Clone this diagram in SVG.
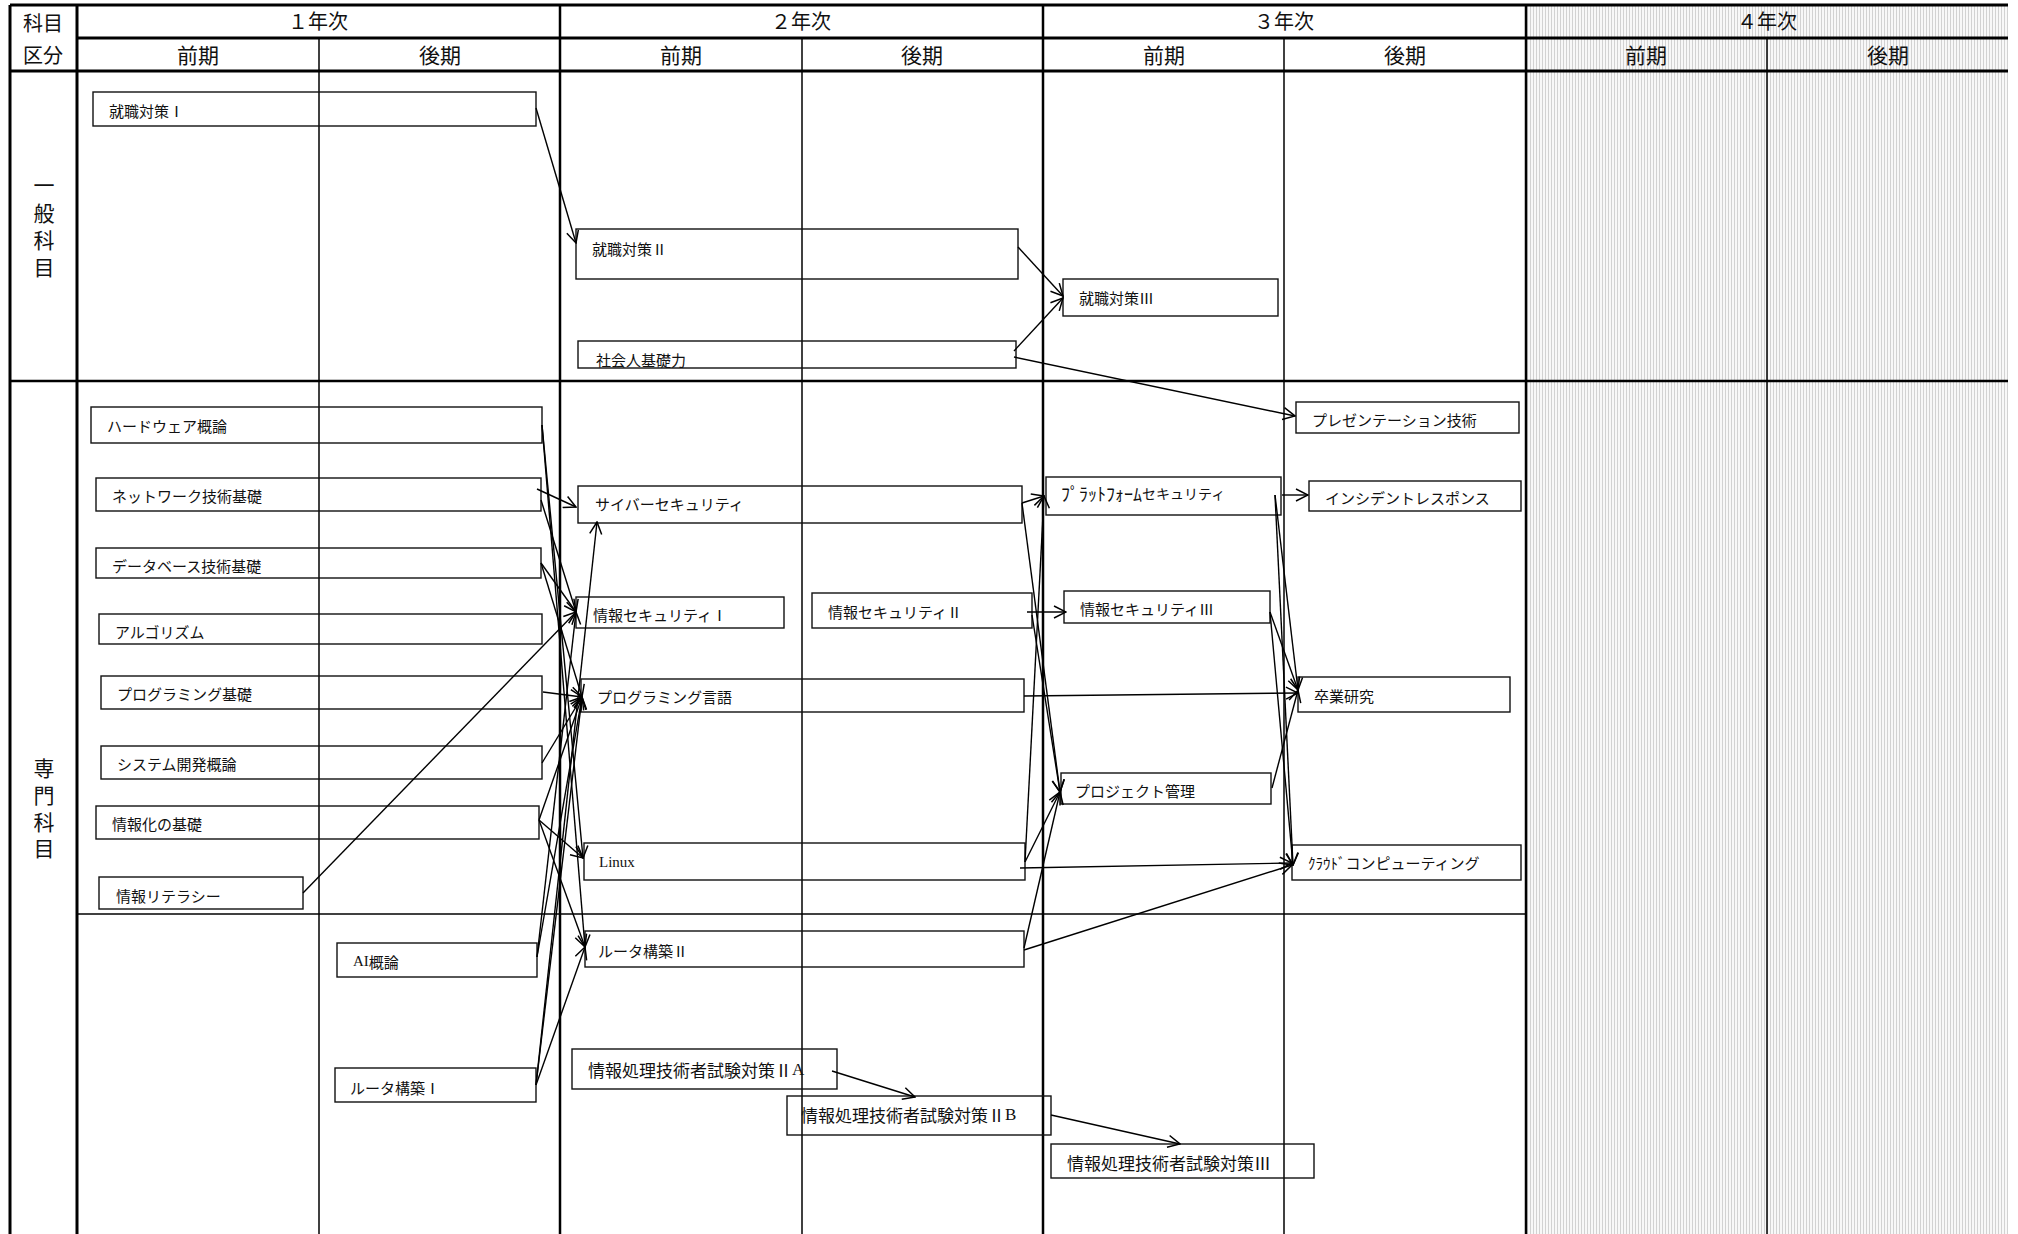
<svg xmlns="http://www.w3.org/2000/svg" width="2018" height="1234" viewBox="0 0 2018 1234">
<style>
.g{stroke:#000;fill:none}
.thick{stroke-width:3}
.mid{stroke-width:2.5}
.thin{stroke-width:1.5}
.box{fill:none;stroke:#111;stroke-width:1.4}
.t{font-family:"Noto Sans CJK JP","Liberation Serif",sans-serif;font-size:15px;fill:#111;dominant-baseline:central}
.lat{font-family:"Liberation Serif","Noto Sans CJK JP",serif}
.big{font-size:17px}
.sm{font-size:14px}
.hw{font-size:18px}
.h{font-family:"Noto Sans CJK JP",sans-serif;font-size:20px;fill:#111;text-anchor:middle;dominant-baseline:central}
.hp{font-size:21px}
.c line{stroke:#000;stroke-width:1.4;marker-end:url(#arr)}
</style>
<defs>
<pattern id="hatch" width="3" height="3" patternUnits="userSpaceOnUse">
<rect width="3" height="3" fill="#f8f8f8"/>
<rect width="1" height="3" fill="#d2d2d2"/>
</pattern>
<marker id="arr" viewBox="0 0 14 14" refX="13" refY="7" markerWidth="14" markerHeight="14" orient="auto" markerUnits="userSpaceOnUse">
<path d="M1,1 L13,7 L1,13" fill="none" stroke="#000" stroke-width="1.5"/>
</marker>
</defs>
<rect x="0" y="0" width="2018" height="1234" fill="#fff"/>
<rect x="1526" y="5" width="482" height="1229" fill="url(#hatch)"/>
<g id="grid" class="g">
<line class="thick" x1="10" y1="5" x2="2008" y2="5"/>
<line class="thick" x1="77" y1="38" x2="2008" y2="38"/>
<line class="thick" x1="10" y1="71" x2="2008" y2="71"/>
<line class="mid" x1="10" y1="381" x2="2008" y2="381"/>
<line class="thin" x1="77" y1="914" x2="1526" y2="914"/>
<line class="thick" x1="10" y1="5" x2="10" y2="1234"/>
<line class="thick" x1="77" y1="5" x2="77" y2="1234"/>
<line class="mid" x1="560" y1="5" x2="560" y2="1234"/>
<line class="mid" x1="1043" y1="5" x2="1043" y2="1234"/>
<line class="mid" x1="1526" y1="5" x2="1526" y2="1234"/>
<line class="thin" x1="319" y1="38" x2="319" y2="1234"/>
<line class="thin" x1="802" y1="38" x2="802" y2="1234"/>
<line class="thin" x1="1284" y1="38" x2="1284" y2="1234"/>
<line class="thin" x1="1767" y1="38" x2="1767" y2="1234"/>
</g>
<g id="header">
<text class="h" x="43" y="22">科目</text>
<text class="h" x="43" y="54">区分</text>
<text class="h" x="318" y="20">１年次</text>
<text class="h" x="801" y="20">２年次</text>
<text class="h" x="1284" y="20">３年次</text>
<text class="h" x="1767" y="20">４年次</text>
<text class="h hp" x="198" y="54">前期</text>
<text class="h hp" x="440" y="54">後期</text>
<text class="h hp" x="681" y="54">前期</text>
<text class="h hp" x="922" y="54">後期</text>
<text class="h hp" x="1164" y="54">前期</text>
<text class="h hp" x="1405" y="54">後期</text>
<text class="h hp" x="1646" y="54">前期</text>
<text class="h hp" x="1888" y="54">後期</text>
<text class="h hp" x="44" y="184">一</text>
<text class="h hp" x="44" y="212">般</text>
<text class="h hp" x="44" y="239">科</text>
<text class="h hp" x="44" y="266">目</text>
<text class="h hp" x="44" y="767">専</text>
<text class="h hp" x="44" y="794">門</text>
<text class="h hp" x="44" y="821">科</text>
<text class="h hp" x="44" y="847">目</text>
</g>
<g id="n1"><rect class="box" x="93" y="92" width="443" height="34"/><text class="t" x="109" y="110">就職対策Ⅰ</text></g>
<g id="n2"><rect class="box" x="576" y="229" width="442" height="50"/><text class="t" x="592" y="248">就職対策Ⅱ</text></g>
<g id="n3"><rect class="box" x="578" y="341" width="438" height="27"/><text class="t" x="596" y="359">社会人基礎力</text></g>
<g id="n4"><rect class="box" x="1063" y="279" width="215" height="37"/><text class="t" x="1079" y="297">就職対策Ⅲ</text></g>
<g id="n5"><rect class="box" x="91" y="407" width="451" height="36"/><text class="t" x="107" y="425">ハードウェア概論</text></g>
<g id="n6"><rect class="box" x="96" y="478" width="445" height="33"/><text class="t" x="112" y="495">ネットワーク技術基礎</text></g>
<g id="n7"><rect class="box" x="96" y="548" width="445" height="30"/><text class="t" x="112" y="565">データベース技術基礎</text></g>
<g id="n8"><rect class="box" x="99" y="614" width="443" height="30"/><text class="t" x="115" y="631">アルゴリズム</text></g>
<g id="n9"><rect class="box" x="101" y="676" width="441" height="33"/><text class="t" x="117" y="693">プログラミング基礎</text></g>
<g id="n10"><rect class="box" x="101" y="746" width="441" height="33"/><text class="t" x="117" y="763">システム開発概論</text></g>
<g id="n11"><rect class="box" x="96" y="806" width="443" height="33"/><text class="t" x="112" y="823">情報化の基礎</text></g>
<g id="n12"><rect class="box" x="99" y="877" width="204" height="32"/><text class="t" x="116" y="895">情報リテラシー</text></g>
<g id="n13"><rect class="box" x="337" y="943" width="200" height="34"/><text class="t" x="353" y="961"><tspan class="lat">AI</tspan>概論</text></g>
<g id="n14"><rect class="box" x="335" y="1068" width="201" height="34"/><text class="t" x="350" y="1087">ルータ構築Ⅰ</text></g>
<g id="n15"><rect class="box" x="578" y="486" width="444" height="37"/><text class="t" x="595" y="503">サイバーセキュリティ</text></g>
<g id="n16"><rect class="box" x="576" y="597" width="208" height="31"/><text class="t" x="593" y="614">情報セキュリティⅠ</text></g>
<g id="n17"><rect class="box" x="812" y="593" width="220" height="35"/><text class="t" x="828" y="611">情報セキュリティⅡ</text></g>
<g id="n18"><rect class="box" x="581" y="679" width="443" height="33"/><text class="t" x="597" y="696">プログラミング言語</text></g>
<g id="n19"><rect class="box" x="584" y="843" width="441" height="37"/><text class="t lat" x="599" y="862">Linux</text></g>
<g id="n20"><rect class="box" x="585" y="931" width="439" height="36"/><text class="t" x="598" y="950">ルータ構築Ⅱ</text></g>
<g id="n21"><rect class="box" x="572" y="1049" width="265" height="40"/><text class="t big" x="588" y="1069">情報処理技術者試験対策Ⅱ<tspan class="lat">A</tspan></text></g>
<g id="n22"><rect class="box" x="787" y="1096" width="264" height="39"/><text class="t big" x="801" y="1114">情報処理技術者試験対策Ⅱ<tspan class="lat">B</tspan></text></g>
<g id="n23"><rect class="box" x="1051" y="1144" width="263" height="34"/><text class="t big" x="1067" y="1162">情報処理技術者試験対策Ⅲ</text></g>
<g id="n24"><rect class="box" x="1296" y="402" width="223" height="31"/><text class="t" x="1312" y="419">プレゼンテーション技術</text></g>
<g id="n25"><rect class="box" x="1046" y="477" width="235" height="38"/><text class="t sm" x="1061" y="493"><tspan class="hw">ﾌﾟﾗｯﾄﾌｫｰﾑ</tspan>セキュリティ</text></g>
<g id="n26"><rect class="box" x="1309" y="481" width="212" height="30"/><text class="t" x="1325" y="497">インシデントレスポンス</text></g>
<g id="n27"><rect class="box" x="1064" y="591" width="206" height="32"/><text class="t" x="1080" y="608">情報セキュリティⅢ</text></g>
<g id="n28"><rect class="box" x="1298" y="677" width="212" height="35"/><text class="t" x="1314" y="695">卒業研究</text></g>
<g id="n29"><rect class="box" x="1061" y="773" width="210" height="31"/><text class="t" x="1075" y="790">プロジェクト管理</text></g>
<g id="n30"><rect class="box" x="1292" y="845" width="229" height="35"/><text class="t" x="1308" y="862">ｸﾗｳﾄﾞコンピューティング</text></g>
<g id="connectors" class="c">
<line x1="536" y1="108" x2="576" y2="243"/>
<line x1="1018" y1="247" x2="1063" y2="296"/>
<line x1="1014" y1="351" x2="1063" y2="298"/>
<line x1="1014" y1="357" x2="1295" y2="416"/>
<line x1="542" y1="425" x2="583" y2="858"/>
<line x1="542" y1="425" x2="585" y2="947"/>
<line x1="537" y1="489" x2="576" y2="507"/>
<line x1="541" y1="500" x2="576" y2="612"/>
<line x1="541" y1="563" x2="576" y2="612"/>
<line x1="541" y1="563" x2="582" y2="697"/>
<line x1="543" y1="692" x2="582" y2="697"/>
<line x1="542" y1="763" x2="582" y2="697"/>
<line x1="539" y1="820" x2="582" y2="697"/>
<line x1="539" y1="820" x2="583" y2="858"/>
<line x1="539" y1="820" x2="585" y2="947"/>
<line x1="303" y1="893" x2="576" y2="612"/>
<line x1="537" y1="957" x2="576" y2="612"/>
<line x1="537" y1="957" x2="582" y2="697"/>
<line x1="536" y1="1085" x2="597" y2="522"/>
<line x1="536" y1="1085" x2="585" y2="947"/>
<line x1="536" y1="1085" x2="582" y2="697"/>
<line x1="1022" y1="503" x2="1044" y2="496"/>
<line x1="1022" y1="503" x2="1060" y2="792"/>
<line x1="1027" y1="612" x2="1066" y2="612"/>
<line x1="1032" y1="615" x2="1060" y2="792"/>
<line x1="1025" y1="862" x2="1044" y2="496"/>
<line x1="1025" y1="862" x2="1060" y2="792"/>
<line x1="1024" y1="948" x2="1060" y2="792"/>
<line x1="1024" y1="696" x2="1298" y2="693"/>
<line x1="1020" y1="868" x2="1292" y2="863"/>
<line x1="1024" y1="950" x2="1292" y2="865"/>
<line x1="1282" y1="495" x2="1308" y2="495"/>
<line x1="1275" y1="495" x2="1298" y2="690"/>
<line x1="1275" y1="495" x2="1293" y2="865"/>
<line x1="1270" y1="612" x2="1298" y2="690"/>
<line x1="1270" y1="612" x2="1293" y2="865"/>
<line x1="1272" y1="788" x2="1298" y2="690"/>
<line x1="832" y1="1071" x2="915" y2="1097"/>
<line x1="1051" y1="1115" x2="1180" y2="1144"/>
</g>
</svg>
